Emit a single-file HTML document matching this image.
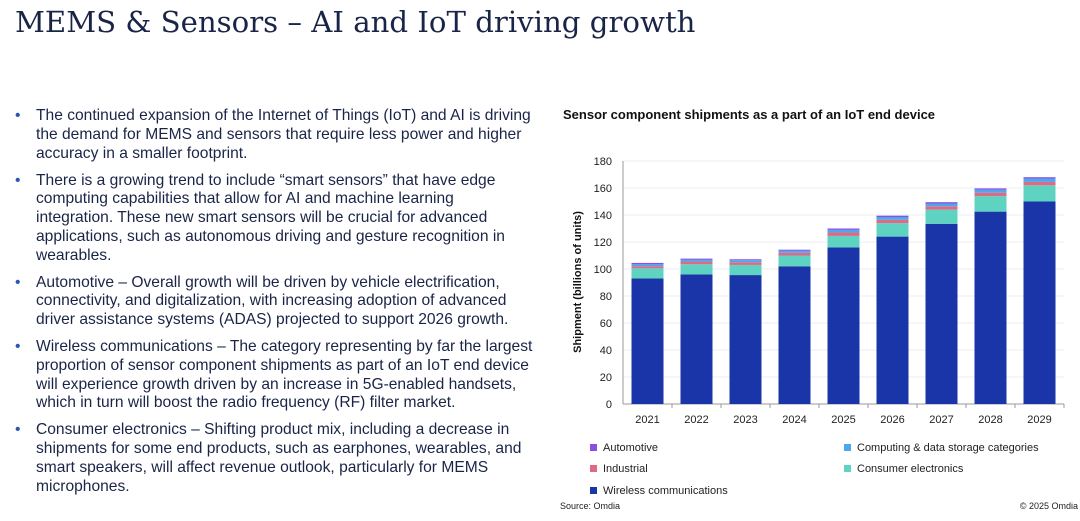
<!DOCTYPE html>
<html><head><meta charset="utf-8"><style>
body{margin:0;width:1080px;height:521px;background:#fff;position:relative;overflow:hidden;font-family:"Liberation Sans",sans-serif;color:#1a2447}
h1{position:absolute;left:15px;top:5px;margin:0;font-family:"DejaVu Serif",serif;font-weight:normal;font-size:29.2px;letter-spacing:0px;color:#1a2447;white-space:nowrap}
ul{position:absolute;left:14px;top:107px;width:498px;margin:0;padding:0 0 0 22px;font-size:15.6px;line-height:18.75px;list-style:none}
li{position:relative;margin-bottom:8.3px}
li:before{content:"•";position:absolute;left:-21px;color:#2b55b8}
</style></head><body>
<h1>MEMS &amp; Sensors – AI and IoT driving growth</h1>
<ul>
<li>The continued expansion of the Internet of Things (IoT) and AI is driving the demand for MEMS and sensors that require less power and higher accuracy in a smaller footprint.</li>
<li>There is a growing trend to include “smart sensors” that have edge computing capabilities that allow for AI and machine learning integration. These new smart sensors will be crucial for advanced applications, such as autonomous driving and gesture recognition in wearables.</li>
<li>Automotive – Overall growth will be driven by vehicle electrification, connectivity, and digitalization, with increasing adoption of advanced driver assistance systems (ADAS) projected to support 2026 growth.</li>
<li>Wireless communications – The category representing by far the largest proportion of sensor component shipments as part of an IoT end device will experience growth driven by an increase in 5G-enabled handsets, which in turn will boost the radio frequency (RF) filter market.</li>
<li>Consumer electronics – Shifting product mix, including a decrease in shipments for some end products, such as earphones, wearables, and smart speakers, will affect revenue outlook, particularly for MEMS microphones.</li>
</ul>
<svg id="chart" width="1080" height="521" style="position:absolute;left:0;top:0" font-family="Liberation Sans, sans-serif">
<text x="563" y="119" font-size="13" font-weight="bold" fill="#111">Sensor component shipments as a part of an IoT end device</text>
<text transform="translate(581,282) rotate(-90)" text-anchor="middle" font-size="11" font-weight="bold" fill="#111">Shipment (billions of units)</text>
<g id="plot"></g>
<text x="560" y="509" font-size="9" fill="#222">Source: Omdia</text>
<text x="1078" y="509" font-size="9" fill="#222" text-anchor="end">© 2025 Omdia</text>
</svg>
<script>
const years=["2021","2022","2023","2024","2025","2026","2027","2028","2029"];
const wireless=[93,96,95.5,102,116,124,133.5,142.5,150];
const consumer=[7.5,7.5,7.5,8,8.5,10,10.5,11.5,12];
const industrial=[1.5,2,2,2,2.5,2.5,2.5,2.5,2.5];
const computing=[1.5,1.5,1.5,1.5,2,2,2,2.2,2.5];
const automotive=[1,0.7,0.7,0.8,1,1,1,1,1];
const yTicks=[0,20,40,60,80,100,120,140,160,180];
const seriesNames=["Wireless communications","Consumer electronics","Industrial","Computing & data storage categories","Automotive"];
const ns="http://www.w3.org/2000/svg";
const g=document.getElementById('plot');
const x0=623,x1=1064,yBase=404,yTop=161,yMax=180;
const y=v=>yBase-(v/yMax)*(yBase-yTop);
const pitch=(x1-x0)/years.length,bw=32;
const xc=i=>x0+pitch*(i+0.5);
function mk(t,a){const e=document.createElementNS(ns,t);for(const k in a)e.setAttribute(k,a[k]);g.appendChild(e);return e;}
yTicks.forEach(t=>{
 const l=mk('line',{x1:x0,x2:x1,y1:y(t),y2:y(t),stroke:t?'#eceef2':'#999','stroke-width':1});
 
 
 const tx=mk('text',{x:x0-11,y:y(t)+4,'text-anchor':'end','font-size':11,fill:'#222'});
 tx.textContent=t;
 
 
});
mk('line',{x1:x0,x2:x0,y1:yTop,y2:yBase,stroke:'#999'});
const series=[wireless,consumer,industrial,computing,automotive];
const colors=["#1a35a8","#5fd3c2","#e06a84","#4aa8ec","#8a4ee0"];
const keys=["wireless","consumer","industrial","computing","automotive"];
years.forEach((yr,i)=>{
 let acc=0;
 series.forEach((s,k)=>{
  const r=mk('rect',{x:xc(i)-bw/2,y:y(acc+s[i]),width:bw,height:y(acc)-y(acc+s[i]),fill:colors[k]});
  
  
  acc+=s[i];
 });
 const tx=mk('text',{x:xc(i),y:yBase+19,'text-anchor':'middle','font-size':11,fill:'#222'});
 tx.textContent=yr;
 
 
 mk('line',{x1:x0+pitch*(i+1),x2:x0+pitch*(i+1),y1:yBase,y2:yBase+4,stroke:'#999'});
});
const legend=[[4,593,451],[3,847,451],[2,593,472],[1,847,472],[0,593,494]];
legend.forEach(([k,lx,ly])=>{
 const r=mk('rect',{x:lx-3,y:ly-7,width:7,height:7,fill:colors[k]});
 
 
 const t=mk('text',{x:lx+10,y:ly,'font-size':11,fill:'#222'});
 t.textContent=seriesNames[k];
 
 
});
</script>
</body></html>
